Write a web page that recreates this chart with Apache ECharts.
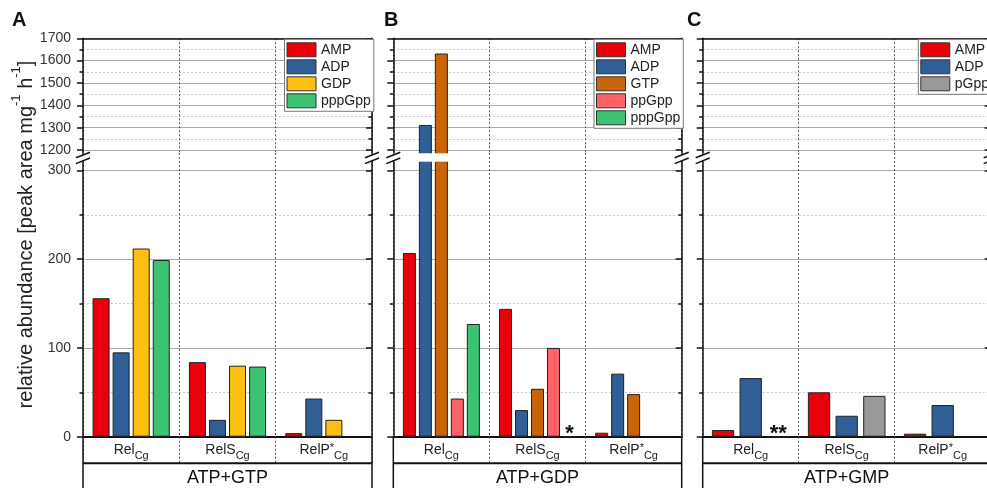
<!DOCTYPE html>
<html><head><meta charset="utf-8">
<script src="https://cdn.jsdelivr.net/npm/echarts@6/dist/echarts.min.js"></script>
<style>html,body{margin:0;padding:0;background:#fff}#c{width:987px;height:488px}</style>
</head><body><div id="c"></div>
<script>
// ---------- data ----------
const categories = ['Rel', 'RelS', 'RelP*'];
const upperTicks = [1200, 1300, 1400, 1500, 1600, 1700];
const upperMinor = [1250, 1350, 1450, 1550, 1650];
const lowerTicks = [0, 100, 200, 300];
const lowerMinor = [50, 150, 250];

// Panel A: ATP+GTP
const A_AMP = [156, 84, 4];
const A_ADP = [95, 19, 43];
const A_GDP = [212, 80, 19];
const A_pppGpp = [199, 79, null];

// Panel B: ATP+GDP
const B_AMP = [207, 144, 4.5];
const B_ADP = [1312, 30, 71];
const B_GTP = [1632, 54, 48];
const B_ppGpp = [43, 100, null];
const B_pppGpp = [127, 0, null];
const B_pppGpp_marks = [null, '*', null];

// Panel C: ATP+GMP
const C_AMP = [7.5, 50, 3.4];
const C_ADP = [66, 23.6, 35.7];
const C_pGpp = [0, 46, null];
const C_pGpp_marks = ['**', null, null];

// ---------- styling / layout ----------
const FONT = "'Liberation Sans', Arial, Helvetica, sans-serif";
const COLORS = {AMP:'#ea000a', ADP:'#2f5f96', GDP:'#fdc011', GTP:'#c96508', ppGpp:'#fd6368', pppGpp:'#3bc273', pGpp:'#999999'};
const UP_TOP = 38.3, UP_BOT = 154, LO_TOP = 161, LO_BOT = 436.7, ROW_BOT = 463.3;
const UP_MIN = 1182, UP_MAX = 1700, LO_MIN = 0, LO_MAX = 310.6;

const panels = [
  {title:'ATP+GTP', letter:'A', letterX:12, left:83, width:289, barWidth:17, barGap:'18%', legendLeft:284.5, labels:true,
   series:[['AMP',A_AMP],['ADP',A_ADP],['GDP',A_GDP],['pppGpp',A_pppGpp]], marks:{}},
  {title:'ATP+GDP', letter:'B', letterX:384, left:393.3, width:288.4, barWidth:13, barGap:'23%', legendLeft:594, labels:false,
   series:[['AMP',B_AMP],['ADP',B_ADP],['GTP',B_GTP],['ppGpp',B_ppGpp],['pppGpp',B_pppGpp]], marks:{pppGpp:B_pppGpp_marks}},
  {title:'ATP+GMP', letter:'C', letterX:687, left:702.7, width:288, barWidth:22.3, barGap:'24%', legendLeft:918.3, labels:false,
   series:[['AMP',C_AMP],['ADP',C_ADP],['pGpp',C_pGpp]], marks:{pGpp:C_pGpp_marks}}
];

const grids = [], xAxes = [], yAxes = [], series = [], legends = [], graphics = [];

function makeY(g, pos, ticks, len, inside, labels, split, dotted, min, max, showLine) {
  return {type:'value', gridIndex:g, position:pos, min:min, max:max,
    axisLine:{show:showLine, onZero:false, lineStyle:{color:'#111', width:1.5}},
    axisTick:{show:true, customValues:ticks, length:len, inside:inside, lineStyle:{color:'#111', width:1.5}},
    axisLabel:{show:labels, customValues:ticks, margin:12, fontSize:14, color:'#333', fontFamily:FONT,
      formatter:function (v) { return String(v); }},
    splitLine:{show:split, lineStyle: dotted ? {color:'#c8c8c8', type:[2,2], width:1} : {color:'#aaaaaa', width:1}},
    minorTick:{show:false}, minorSplitLine:{show:false}};
}

function catFormatter(v) {
  if (v.endsWith('*')) return '{m|' + v.slice(0, -1) + '}{sup|*}{s|Cg}';
  return '{m|' + v + '}{s|Cg}';
}

panels.forEach(function (p, i) {
  const gu = 2 * i, gl = 2 * i + 1;
  grids.push({left:p.left, width:p.width, top:UP_TOP, height:UP_BOT - UP_TOP, outerBoundsMode:'none', containLabel:false});
  grids.push({left:p.left, width:p.width, top:LO_TOP, height:LO_BOT - LO_TOP, outerBoundsMode:'none', containLabel:false});
  const split = {show:true, interval:0, lineStyle:{color:'#555', type:[2,2], width:1}};
  xAxes.push({type:'category', gridIndex:gu, data:categories, position:'top',
    axisLine:{show:true, onZero:false, lineStyle:{color:'#111', width:1.5}},
    axisTick:{show:false}, axisLabel:{show:false}, splitLine:split});
  xAxes.push({type:'category', gridIndex:gl, data:categories, position:'bottom',
    axisLine:{show:true, onZero:false, lineStyle:{color:'#111', width:2}},
    axisTick:{show:true, interval:0, length:27, lineStyle:{color:'#555', type:[2,2], width:1}},
    axisLabel:{interval:0, margin:6, formatter:catFormatter, color:'#222',
      rich:{
        m:{fontSize:14, fontFamily:FONT, color:'#222', verticalAlign:'top'},
        sup:{fontSize:11, fontFamily:FONT, color:'#222', verticalAlign:'top'},
        s:{fontSize:11, fontFamily:FONT, color:'#222', verticalAlign:'top', padding:[8,0,0,0]}
      }},
    splitLine:split});
  const yu = yAxes.length;
  yAxes.push(makeY(gu, 'left', upperTicks, 6, false, p.labels, true, false, UP_MIN, UP_MAX, true));
  yAxes.push(makeY(gu, 'left', upperMinor, 3.5, false, false, true, true, UP_MIN, UP_MAX, false));
  yAxes.push(makeY(gu, 'right', upperTicks, 6, true, false, false, false, UP_MIN, UP_MAX, true));
  yAxes.push(makeY(gu, 'right', upperMinor, 3.5, true, false, false, false, UP_MIN, UP_MAX, false));
  const yl = yAxes.length;
  yAxes.push(makeY(gl, 'left', lowerTicks, 6, false, p.labels, true, false, LO_MIN, LO_MAX, true));
  yAxes.push(makeY(gl, 'left', lowerMinor, 3.5, false, false, true, true, LO_MIN, LO_MAX, false));
  yAxes.push(makeY(gl, 'right', lowerTicks, 6, true, false, false, false, LO_MIN, LO_MAX, true));
  yAxes.push(makeY(gl, 'right', lowerMinor, 3.5, true, false, false, false, LO_MIN, LO_MAX, false));

  p.series.forEach(function (s) {
    const name = s[0], vals = s[1];
    const base = {type:'bar', name:name, barWidth:p.barWidth, barGap:p.barGap,
      itemStyle:{color:COLORS[name], borderColor:'#222', borderWidth:1}, clip:true, animation:false};
    series.push(Object.assign({}, base, {xAxisIndex:gu, yAxisIndex:yu, data:vals.slice()}));
    const marks = p.marks[name];
    const lowData = vals.map(function (v, k) {
      if (marks && marks[k]) {
        return {value:v, label:{show:true, position:'top', distance:0, offset:[0, 9], formatter:marks[k],
          fontSize:22, fontWeight:'bold', color:'#111', fontFamily:FONT}};
      }
      return v;
    });
    series.push(Object.assign({}, base, {xAxisIndex:gl, yAxisIndex:yl, data:lowData}));
  });

  legends.push({data:p.series.map(function (s) { return s[0]; }), orient:'vertical', left:p.legendLeft, top:39.3,
    itemWidth:29, itemHeight:14, itemGap:2, padding:[3, 3, 3, 2], icon:'rect',
    backgroundColor:'#fff', borderColor:'#777', borderWidth:1, selectedMode:false,
    itemStyle:{borderColor:'#333', borderWidth:1},
    textStyle:{fontSize:14, color:'#222', fontFamily:FONT, lineHeight:14}});

  // frame decorations
  const L = p.left, R = p.left + p.width;
  // white gap of the axis break (hides the clipped bar edges)
  graphics.push({type:'rect', z:50, silent:true, shape:{x:L + 0.8, y:153.2, width:p.width - 1.6, height:8.6}, style:{fill:'#fff'}});
  for (let k = 1; k < categories.length; k++) {
    const xk = L + p.width * k / categories.length;
    graphics.push({type:'line', z:51, silent:true, shape:{x1:xk, y1:153, x2:xk, y2:162}, style:{stroke:'#555', lineWidth:1, lineDash:[2,2]}});
  }
  [L, R].forEach(function (x) {
    graphics.push({type:'line', z:52, shape:{x1:x, y1:LO_BOT, x2:x, y2:492}, style:{stroke:'#111', lineWidth:1.5}, silent:true});
    graphics.push({type:'line', z:52, shape:{x1:x - 7, y1:157.8, x2:x + 7, y2:152.2}, style:{stroke:'#111', lineWidth:1.5}, silent:true});
    graphics.push({type:'line', z:52, shape:{x1:x - 7, y1:163.6, x2:x + 7, y2:158.0}, style:{stroke:'#111', lineWidth:1.5}, silent:true});
  });
  graphics.push({type:'line', z:52, shape:{x1:L, y1:ROW_BOT, x2:R, y2:ROW_BOT}, style:{stroke:'#111', lineWidth:2}, silent:true});
  graphics.push({type:'text', x:(L + R) / 2, y:478, silent:true,
    style:{text:p.title, fill:'#111', fontSize:18, fontFamily:FONT, align:'center', verticalAlign:'middle'}});
  graphics.push({type:'text', x:p.letterX, y:20, silent:true,
    style:{text:p.letter, fill:'#111', fontSize:20, fontWeight:'bold', fontFamily:FONT, align:'left', verticalAlign:'middle'}});
});

graphics.push({type:'text', x:23, y:234.5, rotation:Math.PI / 2, silent:true,
  style:{text:'{m|relative abundance [peak area mg}{sup|-1}{m| h}{sup|-1}{m|]}', align:'center', verticalAlign:'middle',
    rich:{
      m:{fontSize:20, fontFamily:FONT, fill:'#222', lineHeight:26, verticalAlign:'bottom'},
      sup:{fontSize:13, fontFamily:FONT, fill:'#222', verticalAlign:'top'}
    }}});

const chart = echarts.init(document.getElementById('c'), null, {renderer:'canvas'});
chart.setOption({
  animation:false,
  backgroundColor:'#fff',
  grid:grids, xAxis:xAxes, yAxis:yAxes, series:series, legend:legends,
  graphic:{elements:graphics}
});
</script></body></html>
